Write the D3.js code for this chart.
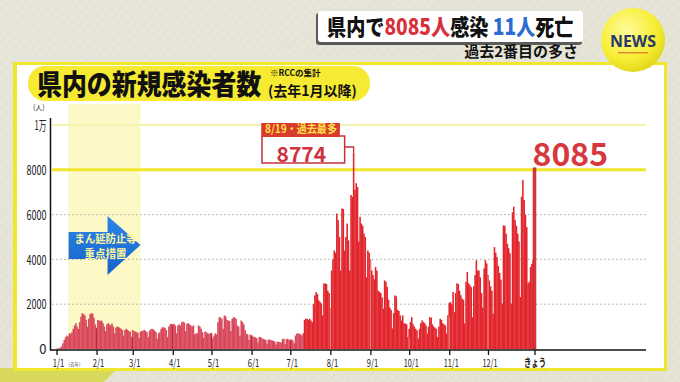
<!DOCTYPE html>
<html><head><meta charset="utf-8">
<script src="https://cdn.jsdelivr.net/npm/d3@7"></script>
<style>html,body{margin:0;padding:0;background:#e8e6da;}svg{display:block;}</style>
</head><body>
<svg id="c" width="680" height="382"></svg>
<script>
// ---------------- DATA ----------------
const startDate = "2022-01-01";
const todayDate = "2023-01-06";
const jan22 = [20,25,30,60,120,250,400,520,600,560,700,680,750,900,1050,1150,1000,900,1200,1450,1600,1550,1500,1300,1000,1350,1550,1600,1580,1400,1100];
const feb22 = [950,1300,1270,1250,1270,1150,1000,800,1100,1150,1100,1050,1140,1000,700,950,1000,980,950,900,850,600,850,900,850,800,780,550];
const mar22 = [850,800,780,750,720,500,780,800,820,860,800,750,530,820,880,900,880,820,750,455,700,750,900,975,960,950,850,530,1000,1100,1125];
const apr22 = [1100,1130,1050,700,1050,1100,1050,1200,1220,1180,800,1130,1150,1100,1050,1000,1050,650,700,700,1050,1000,900,750,500,780,750,700,680,700];
const may22 = [720,480,600,700,650,1200,1420,1400,1350,900,1500,1450,1300,1270,1250,800,1350,1420,1400,1350,1050,1000,600,1270,1200,1100,850,680,650,400,640];
const jun22 = [620,560,540,520,480,300,540,530,480,450,430,400,240,420,420,400,380,360,330,200,330,320,300,290,450,460,220,440,460,400];
const jul22 = [430,420,380,250,600,680,700,680,650,600,700,1300,1350,1350,1300,1350,1270,1200,2000,2390,2540,2450,2170,2100,2030,1500,2920,2930,2900,2600,2500];
const aug22 = [1800,3500,4000,4400,4300,6050,5750,5000,3500,6270,6250,4400,5000,5600,4850,3500,6870,6790,8774,7100,7400,7230,4800,5900,5600,5500,5150,5000,3200,4400,4300];
const sep22 = [4000,3500,3300,3100,3660,3500,2600,2550,2500,2300,1800,3060,3000,2770,2200,1850,1750,920,1600,2390,2350,1750,1700,1500,1270,1500,1150,1140,1100,530];
const oct22 = [900,1200,1420,1100,1000,900,830,470,900,1150,1270,1200,1150,1050,690,1000,1420,1400,1100,1000,950,900,530,1000,1350,1300,1150,1100,1050,690,1500];
const nov22 = [2050,2100,2000,2540,1650,2500,2930,2900,2600,2400,2250,2200,1140,3000,3440,2930,2850,2760,1420,2800,3300,3960,3510,3500,3200,2500,1850,3600,3960,3820];
const dec22 = [3300,3060,2800,2600,1580,4550,4300,4100,3700,3400,3100,2030,5520,5500,5150,4700,4500,4280,2030,6100,6350,5750,5500,5150,4800,2320,6800,7540,6650,6000,5440];
const jan23 = [2930,3000,3660,3800,3960,8085];

const monthTicks = ["2022-01-01","2022-02-01","2022-03-01","2022-04-01","2022-05-01","2022-06-01","2022-07-01","2022-08-01","2022-09-01","2022-10-01","2022-11-01","2022-12-01"];
const monthLabels = ["1/1","2/1","3/1","4/1","5/1","6/1","7/1","8/1","9/1","10/1","11/1","12/1"];
const todayLabel = "きょう";
const yTicks = [0,2000,4000,6000,8000,10000];
const yTickLabels = ["0","2000","4000","6000","8000","1万"];
const measureStart = "2022-01-10", measureEnd = "2022-03-07";
const colorSplitDate = "2022-07-12";
const peakDate = "2022-08-19";
const peakLabel = "8/19・過去最多";
const headline = [["県内で","#111"],["8085人","#d8313b"],["感染 ","#111"],["11人","#2a6cd0"],["死亡","#111"]];
const subHeadline = "過去2番目の多さ";
const titleText = "県内の新規感染者数";
const noteText = "※RCCの集計";
const periodText = "(去年1月以降)";
const measureText = ["まん延防止等","重点措置"];

// ---------------- SETUP ----------------
const parse = d3.timeParse("%Y-%m-%d");
const values = [].concat(jan22,feb22,mar22,apr22,may22,jun22,jul22,aug22,sep22,oct22,nov22,dec22,jan23);
const t0 = parse(startDate), tToday = parse(todayDate);
const series = values.map((v,i)=>({date:d3.timeDay.offset(t0,i), value:v}));
const byTime = new Map(series.map(d=>[+d.date,d.value]));
const FONT = "'Noto Sans CJK JP','Noto Sans',sans-serif";
const svg = d3.select("#c");
const defs = svg.append("defs");

const x = d3.scaleTime().domain([t0,tToday]).range([56.5,534.5]);
const y = d3.scaleLinear().domain([0,10000]).range([349,125]);
const step = x(d3.timeDay.offset(t0,1)) - x(t0);

// background
const bg = defs.append("linearGradient").attr("id","bg").attr("x1",0).attr("y1",0).attr("x2",1).attr("y2",1);
bg.append("stop").attr("offset","0%").attr("stop-color","#e9e8de");
bg.append("stop").attr("offset","100%").attr("stop-color","#e3e1d0");
const pat = defs.append("pattern").attr("id","stripes").attr("width",7).attr("height",7)
  .attr("patternUnits","userSpaceOnUse").attr("patternTransform","rotate(40)");
pat.append("rect").attr("width",7).attr("height",7).attr("fill","url(#bg)");
pat.append("line").attr("x1",0).attr("y1",0).attr("x2",0).attr("y2",7).attr("stroke","#dddbcc").attr("stroke-width",2);
svg.append("rect").attr("width",680).attr("height",382).attr("fill","url(#bg)");
svg.append("rect").attr("width",680).attr("height",382).attr("fill","url(#stripes)").attr("opacity",0.6);
svg.append("path").attr("d","M0,368 L118,368 L104,382 L0,382 Z").attr("fill","#d7d85c");

// panel
svg.append("rect").attr("x",15.5).attr("y",63.5).attr("width",650).attr("height",306)
  .attr("fill","#fff").attr("stroke","#f0e72c").attr("stroke-width",3);
svg.append("rect").attr("x",13).attr("y",62).attr("width",4).attr("height",308).attr("fill","#f0e72c");

// headline box
svg.append("rect").attr("x",316).attr("y",13).attr("width",266).attr("height",32).attr("rx",3).attr("fill","#5a5a5a");
svg.append("rect").attr("x",318).attr("y",11).attr("width",265).attr("height",31).attr("rx",3).attr("fill","#fff");
const hl = svg.append("text").attr("transform","translate(327,35) scale(0.87,1)").attr("font-family",FONT).attr("font-weight",900)
  .attr("font-size",22);
headline.forEach(([t,c])=>hl.append("tspan").attr("fill",c).text(t));
svg.append("text").attr("x",578).attr("y",57).attr("text-anchor","end").attr("font-family",FONT)
  .attr("font-weight",700).attr("font-size",15).attr("fill","#111").text(subHeadline);

// NEWS badge
const rg = defs.append("radialGradient").attr("id","yel").attr("cx","40%").attr("cy","35%").attr("r","65%");
rg.append("stop").attr("offset","0%").attr("stop-color","#fffb9a");
rg.append("stop").attr("offset","70%").attr("stop-color","#f7ee33");
rg.append("stop").attr("offset","100%").attr("stop-color","#e3d81c");
svg.append("circle").attr("cx",633).attr("cy",40).attr("r",32).attr("fill","url(#yel)");
svg.append("text").attr("x",633).attr("y",47).attr("text-anchor","middle").attr("font-family","'Open Sans','Noto Sans',sans-serif")
  .attr("font-weight",700).attr("font-size",16).attr("fill","#27386a").attr("textLength",46).attr("lengthAdjust","spacingAndGlyphs").text("NEWS");
svg.append("rect").attr("x",618).attr("y",52).attr("width",30).attr("height",1.5).attr("fill","#e58a2a");

// title pill
svg.append("rect").attr("x",28).attr("y",66).attr("width",342).attr("height",35).attr("rx",17).attr("fill","#f6ea33");
svg.append("text").attr("transform","translate(37,95) scale(0.89,1)").attr("font-family",FONT).attr("font-weight",900).attr("font-size",28)
  .attr("fill","#111").text(titleText);
svg.append("text").attr("x",270).attr("y",76).attr("font-family",FONT).attr("font-weight",700).attr("font-size",8.5)
  .attr("fill","#111").text(noteText);
svg.append("text").attr("x",268).attr("y",96).attr("font-family",FONT).attr("font-weight",700).attr("font-size",14)
  .attr("fill","#111").text(periodText);

// unit
svg.append("text").attr("x",33).attr("y",110).attr("font-family",FONT).attr("font-size",7).attr("fill","#333").text("(人)");

// measure band
const bx0 = x(parse(measureStart)), bx1 = x(parse(measureEnd));
svg.append("rect").attr("x",bx0).attr("y",104).attr("width",bx1-bx0).attr("height",245).attr("fill","#fcf9c6");

// gridlines
const grid = svg.append("g");
[2000,4000,6000].forEach(v=>grid.append("line").attr("x1",52).attr("x2",646).attr("y1",y(v)).attr("y2",y(v))
  .attr("stroke","#a9a9a9").attr("stroke-width",1).attr("stroke-dasharray","1.5,2.5"));
grid.append("line").attr("x1",52).attr("x2",646).attr("y1",y(10000)).attr("y2",y(10000)).attr("stroke","#f6f2b0").attr("stroke-width",2);
grid.append("line").attr("x1",52).attr("x2",646).attr("y1",y(8000)).attr("y2",y(8000)).attr("stroke","#f0e62c").attr("stroke-width",3);

// bars
const split = parse(colorSplitDate);
const barData = series.filter(d=>+d.date !== +tToday);
svg.append("g").selectAll("rect").data(barData).join("rect")
  .attr("x",d=>x(d.date)-step/2-0.15).attr("width",step+0.3)
  .attr("y",d=>y(d.value)).attr("height",d=>y(0)-y(d.value))
  .attr("fill",d=>d.date < split ? "#d9495c" : "#e2262d");
// month separators within bars
svg.append("g").selectAll("line").data(monthTicks.slice(1).map(parse)).join("line")
  .attr("x1",d=>x(d)).attr("x2",d=>x(d)).attr("y1",y(0))
  .attr("y2",d=>y(Math.min(byTime.get(+d), byTime.get(+d3.timeDay.offset(d,-1))))+1)
  .attr("stroke",d=>d < split ? "#a9203a" : "#f5a0a0").attr("stroke-width",0.8);
// today bar
const todayVal = byTime.get(+tToday);
svg.append("rect").attr("x",x(tToday)-1.4).attr("width",2.8).attr("y",y(todayVal)).attr("height",y(0)-y(todayVal))
  .attr("fill","#e0333a").attr("stroke","#b3222d").attr("stroke-width",0.7);

// axes
const yAxis = svg.append("g").attr("transform","translate(50.5,0)")
  .call(d3.axisLeft(y).tickValues(yTicks).tickSize(0).tickPadding(4).tickFormat((d,i)=>yTickLabels[i]));
yAxis.select(".domain").remove();
yAxis.selectAll("text").attr("font-family",FONT).attr("font-size",13).attr("fill","#222").attr("dy","0.36em")
  .each(function(d,i){ const w={0:0,1:20,2:20,3:20,4:20,5:12}[i]; if(w) d3.select(this).attr("textLength",w).attr("lengthAdjust","spacingAndGlyphs"); });
svg.append("line").attr("x1",50.5).attr("x2",50.5).attr("y1",118).attr("y2",350.5).attr("stroke","#111").attr("stroke-width",1.5);
svg.append("line").attr("x1",50).attr("x2",646).attr("y1",350).attr("y2",350).attr("stroke","#111").attr("stroke-width",1.5);

const tickDates = monthTicks.map(parse).concat([tToday]);
const tickText = tickDates.map((d,i)=> i < monthLabels.length ? monthLabels[i] : todayLabel);
const xAxis = svg.append("g").attr("transform","translate(0,350)")
  .call(d3.axisBottom(x).tickValues(tickDates).tickSize(5).tickPadding(4).tickFormat((d,i)=>tickText[i]));
xAxis.select(".domain").remove();
xAxis.selectAll(".tick line").attr("stroke","#111").attr("stroke-width",1.3);
xAxis.selectAll(".tick text").attr("font-family",FONT).attr("fill","#222").attr("font-size",11)
  .attr("lengthAdjust","spacingAndGlyphs")
  .each(function(d,i){
    const t = d3.select(this);
    if(i < monthLabels.length){
      t.attr("x",1.5).attr("textLength", monthLabels[i].length>3 ? 15 : 11.5);
    } else {
      t.attr("font-weight",700).attr("font-size",11.5).attr("textLength",22);
    }
  });
svg.append("text").attr("x",x(t0)+12).attr("y",366).attr("font-family",FONT).attr("font-size",4.5).attr("fill","#333").text("(去年)");

// blue arrow
const ag = defs.append("linearGradient").attr("id","blu").attr("x1",0).attr("y1",0).attr("x2",0).attr("y2",1);
ag.append("stop").attr("offset","0%").attr("stop-color","#2d86ea");
ag.append("stop").attr("offset","100%").attr("stop-color","#1563c8");
const ax0 = bx0+0.5, ax1 = bx1, am = (ax0+ax1)/2+3;
svg.append("path").attr("d",`M${ax0},232 L${am},232 L${am},216 L${ax1},245 L${am},275 L${am},259 L${ax0},259 Z`).attr("fill","url(#blu)");
measureText.forEach((s,i)=>svg.append("text").attr("x",(ax0+ax1)/2+1).attr("y",243+i*14.5).attr("text-anchor","middle")
  .attr("font-family",FONT).attr("font-weight",700).attr("font-size",11).attr("fill","#fff69a")
  .attr("textLength", i===0 ? 62 : 42).attr("lengthAdjust","spacingAndGlyphs").text(s));

// peak callout
const px = x(parse(peakDate)), peakVal = byTime.get(+parse(peakDate)), py = y(peakVal);
const cbR = px-9, cbL = 262;
svg.append("path").attr("d",`M${cbR-1},147 L${px},147 L${px},${py}`).attr("fill","none").attr("stroke","#c9303b").attr("stroke-width",1.3);
svg.append("rect").attr("x",cbL).attr("y",136).attr("width",cbR-cbL).attr("height",27).attr("fill","#fff").attr("stroke","#c9303b").attr("stroke-width",1.5);
svg.append("rect").attr("x",cbL-0.75).attr("y",123).attr("width",cbR-cbL-4).attr("height",14).attr("fill","#d83a2c");
svg.append("text").attr("x",cbL+3).attr("y",133).attr("font-family",FONT).attr("font-weight",700).attr("font-size",11)
  .attr("fill","#ffe14a").attr("textLength",72).attr("lengthAdjust","spacingAndGlyphs").text(peakLabel);
svg.append("text").attr("x",(cbL+cbR)/2-2).attr("y",161.5).attr("text-anchor","middle").attr("font-family",FONT).attr("font-weight",700)
  .attr("font-size",21).attr("fill","#cf3340").text(d3.format("d")(peakVal));

// today label
svg.append("text").attr("x",x(tToday)-2).attr("y",166).attr("font-family",FONT).attr("font-weight",700).attr("font-size",32)
  .attr("fill","#d7383d").text(d3.format("d")(todayVal));
</script>
</body></html>
